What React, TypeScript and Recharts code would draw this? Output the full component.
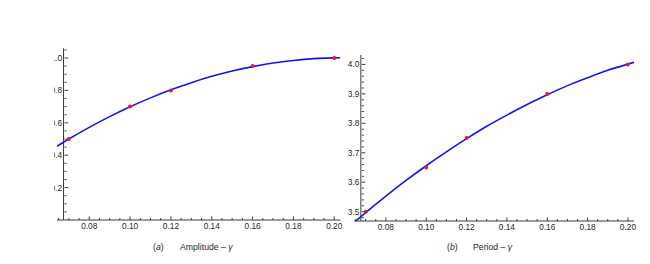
import { ComposedChart, Line, Scatter, XAxis, YAxis, ReferenceLine } from 'recharts'

const GAMMA = [0.07, 0.1, 0.12, 0.16, 0.2]
const AMPLITUDE = [0.5, 0.7, 0.8, 0.95, 1.0]
const PERIOD = [3.5, 3.65, 3.75, 3.9, 4.0]

const FIT_GAMMA = [0.0642, 0.07, 0.08, 0.09, 0.1, 0.11, 0.12, 0.13, 0.14, 0.15, 0.16, 0.17, 0.18, 0.19, 0.2, 0.203]
const AMPLITUDE_FIT = [0.455, 0.5, 0.572, 0.638, 0.699, 0.754, 0.804, 0.848, 0.887, 0.92, 0.947, 0.969, 0.985, 0.996, 1.001, 1.002]
const PERIOD_FIT = [3.463, 3.497, 3.553, 3.606, 3.656, 3.703, 3.748, 3.79, 3.828, 3.864, 3.897, 3.928, 3.955, 3.98, 4.001, 4.007]

const GAMMA_LABELS = [0.08, 0.1, 0.12, 0.14, 0.16, 0.18, 0.2]
const GAMMA_TICKS = [
  0.065, 0.07, 0.075, 0.08, 0.085, 0.09, 0.095, 0.1, 0.105, 0.11, 0.115, 0.12, 0.125, 0.13,
  0.135, 0.14, 0.145, 0.15, 0.155, 0.16, 0.165, 0.17, 0.175, 0.18, 0.185, 0.19, 0.195, 0.2,
]
const AMPLITUDE_LABELS = [0.2, 0.4, 0.6, 0.8, 1.0]
const AMPLITUDE_TICKS = [
  0.05, 0.1, 0.15, 0.2, 0.25, 0.3, 0.35, 0.4, 0.45, 0.5, 0.55, 0.6, 0.65, 0.7, 0.75, 0.8, 0.85, 0.9,
  0.95, 1.0, 1.05,
]
const PERIOD_LABELS = [3.5, 3.6, 3.7, 3.8, 3.9, 4.0]
const PERIOD_TICKS = [
  3.48, 3.5, 3.52, 3.54, 3.56, 3.58, 3.6, 3.62, 3.64, 3.66, 3.68, 3.7, 3.72, 3.74, 3.76, 3.78, 3.8,
  3.82, 3.84, 3.86, 3.88, 3.9, 3.92, 3.94, 3.96, 3.98, 4.0, 4.02,
]

const FONT = '"Liberation Sans", Arial, sans-serif'
const AXIS = '#3a3a3a'
const TEXT = '#1e1e1e'
const CURVE = '#1414f0'
const DOT = '#e8182e'

const isMajor = (labels: number[], v: number) => labels.some((l) => Math.abs(l - v) < 1e-6)

function makeXTick(labels: number[]) {
  return (props: any) => {
    const { x, y, payload } = props
    const major = isMajor(labels, payload.value)
    return (
      <g>
        <line x1={x} x2={x} y1={y} y2={y - (major ? 3.5 : 2)} stroke={AXIS} strokeWidth={1} />
        {major && (
          <text x={x} y={y + 8.8} textAnchor="middle" fontSize={8.3} fontFamily={FONT} fill={TEXT}>
            {payload.value.toFixed(2)}
          </text>
        )}
      </g>
    )
  }
}

function makeYTick(labels: number[], offset: number) {
  return (props: any) => {
    const { x, y, payload } = props
    const ax = x + offset
    const major = isMajor(labels, payload.value)
    return (
      <g>
        <line x1={ax} x2={ax + (major ? 3.5 : 2)} y1={y} y2={y} stroke={AXIS} strokeWidth={1} />
        {major && (
          <text x={ax - 2.5} y={y + 3} textAnchor="end" fontSize={8.3} fontFamily={FONT} fill={TEXT}>
            {payload.value.toFixed(1)}
          </text>
        )}
      </g>
    )
  }
}

interface PanelProps {
  width: number
  margin: { top: number; right: number; bottom: number; left: number }
  xDomain: [number, number]
  yDomain: [number, number]
  yCross: number
  points: number[]
  fit: number[]
  yLabels: number[]
  yTicks: number[]
}

function Panel({ width, margin, xDomain, yDomain, yCross, points, fit, yLabels, yTicks }: PanelProps) {
  // YAxis takes 1px, so the plot starts one px right of margin.left
  const plotWidth = width - margin.left - 1 - margin.right
  const crossOffset = ((yCross - xDomain[0]) / (xDomain[1] - xDomain[0])) * plotWidth
  const pointData = GAMMA.map((g, i) => ({ x: g, y: points[i] }))
  const fitData = FIT_GAMMA.map((g, i) => ({ x: g, y: fit[i] }))

  return (
    <ComposedChart width={width} height={264} margin={margin}>
      <XAxis
        type="number"
        dataKey="x"
        domain={xDomain}
        allowDataOverflow
        ticks={GAMMA_TICKS}
        interval={0}
        height={1}
        tickSize={0}
        tickMargin={0}
        tickLine={false}
        axisLine={{ stroke: AXIS, strokeWidth: 1 }}
        tick={makeXTick(GAMMA_LABELS)}
      />
      <YAxis
        type="number"
        dataKey="y"
        domain={yDomain}
        allowDataOverflow
        ticks={yTicks}
        interval={0}
        width={1}
        tickSize={0}
        tickMargin={0}
        tickLine={false}
        axisLine={false}
        tick={makeYTick(yLabels, crossOffset + 1)}
      />
      <ReferenceLine x={yCross} stroke={AXIS} strokeWidth={1} />
      <Scatter
        data={pointData}
        dataKey="y"
        isAnimationActive={false}
        shape={(p: any) => <circle cx={p.cx} cy={p.cy} r={2} fill={DOT} />}
      />
      <Line
        data={fitData}
        dataKey="y"
        type="monotone"
        stroke={CURVE}
        strokeWidth={1.6}
        dot={false}
        activeDot={false}
        isAnimationActive={false}
      />
    </ComposedChart>
  )
}

export default function App() {
  return (
    <div style={{ position: 'absolute', left: 0, top: 0, width: 650, height: 264, background: '#fff', overflow: 'hidden' }}>
      <div style={{ position: 'absolute', left: 54, top: 0, width: 296, height: 264, overflow: 'hidden' }}>
        <div style={{ marginLeft: -54 }}>
          <Panel
            width={350}
            margin={{ top: 48.3, right: 9.6, bottom: 43, left: 56 }}
            xDomain={[0.0642, 0.203]}
            yDomain={[0, 1.06]}
            yCross={0.0674}
            points={AMPLITUDE}
            fit={AMPLITUDE_FIT}
            yLabels={AMPLITUDE_LABELS}
            yTicks={AMPLITUDE_TICKS}
          />
        </div>
      </div>
      <div style={{ position: 'absolute', left: 340, top: 0, width: 310, height: 264 }}>
        <Panel
          width={310}
          margin={{ top: 55, right: 16, bottom: 42, left: 13 }}
          xDomain={[0.0642, 0.203]}
          yDomain={[3.4684, 4.032]}
          yCross={0.0676}
          points={PERIOD}
          fit={PERIOD_FIT}
          yLabels={PERIOD_LABELS}
          yTicks={PERIOD_TICKS}
        />
      </div>
      <svg width={650} height={264} style={{ position: 'absolute', left: 0, top: 0, pointerEvents: 'none' }}>
        <text x={153} y={250} fontSize={8.7} fontFamily={FONT} fill={TEXT}>
          (<tspan fontStyle="italic">a</tspan>)
        </text>
        <text x={180} y={250} fontSize={8.7} fontFamily={FONT} fill={TEXT}>
          Amplitude – <tspan fontStyle="italic">γ</tspan>
        </text>
        <text x={447} y={250} fontSize={8.7} fontFamily={FONT} fill={TEXT}>
          (<tspan fontStyle="italic">b</tspan>)
        </text>
        <text x={473} y={250} fontSize={8.7} fontFamily={FONT} fill={TEXT}>
          Period – <tspan fontStyle="italic">γ</tspan>
        </text>
      </svg>
    </div>
  )
}
